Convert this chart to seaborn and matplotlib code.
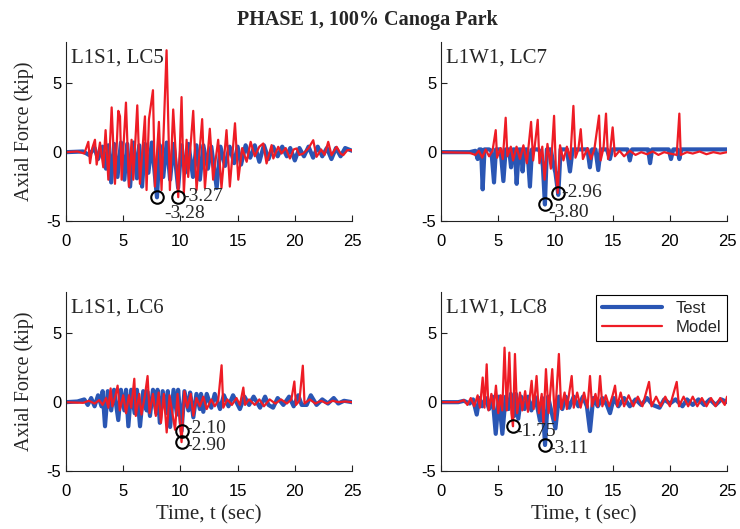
import matplotlib
matplotlib.use("Agg")
import matplotlib.pyplot as plt
import seaborn as sns
import pandas as pd
from matplotlib.lines import Line2D

# ---------------- data ----------------
# Panel 1: L1S1, LC5
lc5_test_t = [0, 1.5, 2.0, 2.5, 2.8, 3.2, 3.5, 3.7, 3.95, 4.2, 4.5, 4.8, 5.1, 5.35, 5.6, 5.9, 6.2, 6.4,
              6.65, 6.9, 7.2, 7.5, 7.95, 8.2, 8.5, 8.8, 9.1, 9.4, 9.8, 10.1, 10.4, 10.7, 11.1, 11.4, 11.7,
              12.0, 12.4, 12.7, 13.17, 13.5, 13.9, 14.3, 14.7, 15.0, 15.3, 15.7, 16.1, 16.5, 16.9, 17.3,
              17.7, 18.1, 18.5, 18.9, 19.3, 19.6, 20.0, 20.4, 20.8, 21.2, 21.6, 22.0, 22.4, 22.8, 23.2,
              23.6, 24.0, 24.4, 25]
lc5_test_v = [0, 0.05, -0.2, 0.3, -0.5, 0.4, -1.2, 0.5, -2.2, 0.6, -1.8, 0.7, -2.0, 0.6, -2.5, 0.7, -1.9, 0.5,
              -2.5, 0.6, -1.5, 0.7, -3.28, 0.5, -1.8, 0.7, -2.0, 0.6, -2.6, 0.5, -1.5, 0.6, -1.8, 0.5, -2.0,
              0.5, -1.2, 0.4, -2.6, 0.4, -1.0, 0.4, -0.8, 0.4, -0.9, 0.5, -0.4, 0.5, -0.7, 0.5,
              -0.5, 0.4, -0.3, 0.4, -0.3, 0.3, -0.6, 0.3, -0.3, 0.4, -0.4, 0.4, -0.3, 0.3, -0.5,
              0.3, -0.3, 0.3, 0.1]
lc5_model_t = [0, 1.0, 1.6, 1.95, 2.1, 2.3, 2.53, 2.68, 2.97, 3.26, 3.46, 3.7, 3.99, 4.28, 4.57, 4.72, 4.86,
               5.24, 5.5, 5.73, 5.88, 6.23, 6.46, 6.9, 7.04, 7.25, 7.6, 7.77, 8.12, 8.35, 8.79, 9.08, 9.37,
               9.81, 10.1, 10.3, 10.54, 10.68, 11.12, 11.41, 11.9, 12.14, 12.57, 12.86, 13.3, 13.59, 14.03,
               14.32, 14.77, 15.06, 15.4, 15.79, 16.14, 16.5, 16.9, 17.24, 17.53, 17.97, 18.12, 18.55, 18.84,
               19.2, 19.57, 19.9, 20.15, 20.4, 20.74, 21.2, 21.61, 21.9, 22.3, 22.6, 22.92, 23.21, 23.65,
               24.0, 24.23, 24.6, 24.96, 25]
lc5_model_v = [0, 0.05, -0.1, 0.75, -0.8, 0.3, 0.9, -0.9, 0.7, -1.1, 1.6, -2.0, 3.25, -2.3, 3.0, 2.6, -2.0,
               3.6, -2.5, 0.9, -2.0, 3.4, -2.3, 2.6, -2.75, 2.4, 4.5, -2.5, 2.2, -2.75, 7.4, -2.75, 3.1,
               -3.27, 4.0, -3.0, 0.9, -1.8, 3.0, -2.75, 2.4, -2.6, 1.7, -2.0, 0.9, -2.6, 1.6,
               -2.5, 2.1, -2.0, 0.3, -0.7, 0.75, -0.3, 0.4, 0.63, -0.82, 0.51, -0.46, 0.39, -0.1,
               0.3, -0.46, 0.2, 0.27, -0.2, -0.1, 0.3, 0.87, -0.34, 0.2, -0.2, 0.75, -0.22, 0.39,
               -0.1, -0.22, 0.15, 0.15, 0.1]

# Panel 2: L1W1, LC7
lc7_test_t = [0, 2.5, 3.0, 3.2, 3.35, 3.5, 3.64, 3.8, 4.2, 4.4, 4.63, 4.8, 5.2, 5.45, 5.65, 5.95, 6.12, 6.3,
              6.45, 6.61, 6.8, 7.0, 7.13, 7.3, 7.55, 7.77, 7.95, 8.5, 8.7, 8.9, 9.08, 9.25, 9.6, 9.8, 10.0,
              10.25, 10.45, 11.0, 11.27, 11.5, 12.8, 13.01, 13.2, 13.5, 13.74, 13.95, 14.5, 14.76, 14.95,
              16.3, 16.5, 16.7, 18.1, 18.27, 18.45, 19.9, 20.1, 20.3, 20.65, 20.83, 21.0, 25]
lc7_test_v = [0, 0.0, 0.1, -0.5, 0.2, 0.2, -2.7, 0.2, 0.2, 0.1, -2.2, 0.2, 0.2, -2.1, 0.2, 0.2, -1.1, 0.2,
              0.2, -2.3, 0.2, 0.2, -1.4, 0.2, 0.2, -2.5, 0.2, 0.2, 0.0, -1.0, -3.8, 0.2, 0.2, -0.8, -1.5,
              -3.1, 0.2, 0.2, -1.4, 0.2, 0.2, -1.1, 0.2, 0.2, -1.3, 0.2, 0.2, -0.5, 0.2,
              0.2, -0.6, 0.2, 0.2, -0.8, 0.2, 0.2, -0.5, 0.2, 0.2, -0.5, 0.2, 0.2]
lc7_model_t = [0, 2.5, 3.0, 3.3, 3.6, 3.9, 4.2, 4.5, 4.78, 4.9, 5.2, 5.4, 5.65, 5.8, 6.1, 6.3, 6.6, 6.9, 7.2,
               7.5, 7.87, 8.05, 8.2, 8.45, 8.6, 8.85, 9.05, 9.3, 9.6, 9.88, 10.05, 10.2, 10.4, 10.7, 11.0,
               11.3, 11.57, 11.75, 12.0, 12.21, 12.4, 12.8, 13.1, 13.4, 13.81, 13.95, 14.2, 14.42, 14.6,
               14.8, 15.0, 15.2, 15.6, 16.0, 16.5, 17.0, 17.5, 18.0, 18.5, 19.0, 19.5, 20.0, 20.6, 20.83,
               20.95, 21.5, 22.0, 22.6, 23.2, 23.8, 24.4, 25]
lc7_model_v = [0, -0.05, -0.2, 0.1, -0.4, 0.2, -0.3, 0.1, 1.6, -0.4, 0.3, -0.5, 2.5, -0.3, 0.4, -0.6, 0.4, -0.5, 0.5,
               -0.8, 2.2, -0.6, 0.5, 2.35, -0.8, 0.4, -2.0, 0.6, -1.2, 2.64, -1.5, -2.96, 0.5, -0.6, 0.4,
               -0.5, 3.36, -0.4, 0.2, 1.67, -0.5, 0.3, -0.5, 0.2, 2.66, -0.6, 0.3, 2.8, -0.5,
               0.2, 1.8, -0.3, 0.1, -0.3, 0.1, -0.2, 0.0, -0.15, 0.05, -0.2, 0.0, -0.1, -0.2, 2.8,
               -0.2, 0.0, -0.1, 0.05, -0.15, 0.0, -0.1, 0.0]

# Panel 3: L1S1, LC6
lc6_test_t = [0, 1.0, 1.6, 1.9, 2.2, 2.5, 2.8, 3.1, 3.2, 3.41, 3.65, 3.95, 4.2, 4.57, 4.8, 5.1, 5.25, 5.45,
              5.7, 6.0, 6.2, 6.47, 6.75, 7.05, 7.1, 7.34, 7.6, 7.9, 8.0, 8.2, 8.45, 8.8, 8.9, 9.1, 9.4, 9.7,
              9.8, 10.1, 10.35, 10.7, 10.85, 11.13, 11.4, 11.7, 11.8, 12.0, 12.3, 12.7, 13.0, 13.46, 13.8,
              14.2, 14.6, 15.2, 15.6, 16.0, 16.4, 16.96, 17.4, 17.7, 18.1, 18.5, 19.0, 19.5, 19.9, 20.3,
              20.6, 21.04, 21.4, 21.9, 22.4, 22.9, 23.4, 23.8, 24.3, 25]
lc6_test_v = [0, 0.05, 0.2, -0.2, 0.3, -0.3, 0.5, -0.3, 0.8, -1.75, 0.8, -0.6, 0.9, -1.3, 0.9, -0.6, 0.9, -1.75,
              0.9, -0.8, 0.9, -1.75, 0.8, -0.6, 0.8, -1.0, 0.9, -0.8, 0.9, -1.5, 0.8, -0.8, 0.8, -1.8, 0.9, -0.9,
              0.9, -2.1, 0.8, -0.6, 0.7, -1.1, 0.6, -0.5, 0.6, -0.7, 0.6, -0.4, 0.6, -0.5, 0.5,
              -0.3, 0.5, -0.5, 0.4, -0.2, 0.4, -0.4, 0.4, -0.2, -0.4, 0.3, -0.2, 0.4, -0.3, 0.5,
              -0.2, -0.2, 0.5, -0.2, 0.2, -0.1, 0.3, -0.1, 0.1, 0.0]
lc6_model_t = [0, 1.5, 2.0, 2.5, 2.9, 3.2, 3.5, 3.7, 3.9, 4.05, 4.3, 4.51, 4.7, 5.0, 5.25, 5.5, 5.7, 5.97,
               6.1, 6.4, 6.6, 6.9, 7.13, 7.3, 7.6, 7.85, 8.1, 8.3, 8.55, 8.8, 9.05, 9.3, 9.53, 9.75, 10.1,
               10.35, 10.6, 10.9, 11.13, 11.4, 11.7, 12.0, 12.3, 12.7, 13.0, 13.3, 13.6, 13.75, 14.1, 14.5,
               14.9, 15.2, 15.5, 15.65, 16.0, 16.5, 16.9, 17.3, 17.8, 18.3, 18.8, 19.3, 19.7, 19.96, 20.1,
               20.4, 20.7, 20.85, 21.3, 21.8, 22.3, 22.8, 23.3, 23.8, 24.4, 25]
lc6_model_v = [0, -0.05, 0.1, -0.1, 0.15, -0.2, 0.3, -0.4, 1.0, -0.3, 0.4, 1.2, -0.6, 0.5, -0.8, 0.5, -0.4, 1.7,
               -1.0, 0.6, -0.9, 0.5, 1.9, -0.8, 0.6, -1.0, 0.7, -1.5, 0.6, -2.2, 0.5, -0.8, -2.0, 0.6, -2.9,
               0.8, -0.4, 0.6, -0.98, 0.3, -0.3, 0.4, -0.5, 0.2, -0.3, 0.1, 2.68, -0.4, 0.2, -0.2,
               0.3, -0.2, 1.06, -0.2, 0.2, -0.2, 0.2, -0.3, 0.2, -0.1, 0.2, -0.1, 0.2, 1.5, -0.2,
               0.1, 2.65, -0.1, 0.2, -0.1, 0.1, -0.1, 0.1, 0.0, 0.05, 0.0]

# Panel 4: L1W1, LC8
lc8_test_t = [0, 1.5, 2.0, 2.5, 2.8, 3.12, 3.35, 3.6, 3.9, 4.2, 4.5, 4.78, 5.05, 5.36, 5.65, 5.9, 6.1, 6.4,
              6.55, 6.75, 7.0, 7.3, 7.6, 7.9, 8.2, 8.45, 8.65, 8.85, 9.09, 9.35, 9.6, 10.0, 10.3, 10.6, 10.9,
              11.2, 11.6, 12.0, 12.4, 12.75, 13.02, 13.3, 13.7, 14.1, 14.5, 14.77, 15.1, 15.5, 16.0, 16.5,
              17.0, 17.5, 18.0, 18.5, 19.1, 19.5, 20.0, 20.5, 21.1, 21.5, 22.0, 22.5, 23.0, 23.5, 24.0,
              24.5, 25]
lc8_test_v = [0, 0.0, 0.1, -0.1, 0.2, -0.9, 0.3, -0.3, 0.3, -0.5, 0.4, -2.3, 0.4, -2.3, 0.4, -0.5, 0.6, -1.0,
              0.6, -1.2, 0.4, -0.5, 0.4, -0.6, 0.4, -0.5, -1.35, 0.3, -3.11, 0.4, -0.5, -1.9, 0.4, -0.5, 0.4,
              -0.4, 0.4, -0.3, 0.4, -0.3, -2.1, 0.3, -0.3, 0.3, -0.2, -0.8, 0.3, -0.3, 0.3, -0.3,
              0.2, -0.2, 0.3, -0.2, -0.4, 0.2, -0.1, 0.2, -0.3, 0.2, -0.2, 0.2, -0.2, 0.2, -0.2,
              0.2, 0.0]
lc8_model_t = [0, 1.5, 2.0, 2.3, 2.6, 2.9, 3.2, 3.4, 3.64, 3.8, 3.99, 4.15, 4.4, 4.6, 4.8, 5.0, 5.2, 5.35,
               5.55, 5.75, 5.97, 6.15, 6.29, 6.46, 6.65, 6.9, 7.1, 7.35, 7.6, 7.92, 8.1, 8.35, 8.55, 8.8,
               8.95, 9.17, 9.4, 9.72, 9.95, 10.3, 10.5, 10.8, 11.0, 11.42, 11.6, 11.9, 12.2, 12.5, 12.8,
               13.02, 13.2, 13.5, 13.7, 13.9, 14.1, 14.4, 14.7, 15.0, 15.21, 15.4, 15.7, 16.0, 16.4, 16.8,
               17.2, 17.6, 18.18, 18.4, 18.8, 19.2, 19.6, 20.0, 20.6, 20.8, 21.2, 21.6, 22.0, 22.4, 22.8,
               23.2, 23.6, 24.0, 24.4, 24.8, 25]
lc8_model_v = [0, 0.0, 0.15, -0.2, 0.3, -0.3, 0.5, -0.4, 1.79, -0.4, 2.75, -0.6, 0.6, -0.5, 1.2, -0.8, 0.5, -0.6,
               3.96, -0.6, 3.6, -0.8, -1.75, 3.5, -0.8, 0.7, -0.6, 0.8, -0.7, 1.55, -0.5, 1.9, -0.8, 0.6,
               -1.5, 2.4, -0.8, 2.4, -1.3, 3.5, -0.5, 0.7, -0.5, 1.9, -0.4, 0.7, -0.4, 0.7, -0.4,
               1.9, -0.3, 0.6, -0.3, 1.9, -0.3, 0.5, -0.3, 0.5, 1.2, -0.3, 0.7, -0.3, 0.5, -0.3,
               0.4, -0.3, 1.47, -0.3, 0.4, -0.3, 0.4, -0.3, 1.47, -0.3, 0.4, -0.3, 0.4, -0.3, 0.3,
               -0.3, 0.3, -0.3, 0.3, -0.2, 0.4]

panel_titles = ["L1S1, LC5", "L1W1, LC7", "L1S1, LC6", "L1W1, LC8"]
# marked extremes: (t, value, label)
marks = [
    [(7.95, -3.28, "-3.28"), (9.81, -3.27, "-3.27")],
    [(9.08, -3.80, "-3.80"), (10.2, -2.96, "-2.96")],
    [(10.1, -2.10, "-2.10"), (10.1, -2.90, "-2.90")],
    [(6.29, -1.75, "-1.75"), (9.09, -3.11, "-3.11")],
]
# label text anchor positions (t, value) for each mark
label_pos = [
    [(8.6, -4.45), (10.15, -3.25)],
    [(9.35, -4.4), (10.55, -2.95)],
    [(10.45, -1.92), (10.45, -3.18)],
    [(6.5, -2.15), (9.35, -3.35)],
]
x_ticks = [0, 5, 10, 15, 20, 25]
y_ticks = [-5, 0, 5]

series = [
    (lc5_test_t, lc5_test_v, lc5_model_t, lc5_model_v),
    (lc7_test_t, lc7_test_v, lc7_model_t, lc7_model_v),
    (lc6_test_t, lc6_test_v, lc6_model_t, lc6_model_v),
    (lc8_test_t, lc8_test_v, lc8_model_t, lc8_model_v),
]

# ---------------- style ----------------
sns.set_style("ticks")
plt.rcParams["font.family"] = ["Liberation Sans", "DejaVu Sans"]
plt.rcParams["axes.unicode_minus"] = False
plt.rcParams["xtick.direction"] = "in"
plt.rcParams["ytick.direction"] = "in"

BLUE = "#2a56b4"
RED = "#ee1c25"
SERIF = ["Liberation Serif", "DejaVu Serif"]

fig = plt.figure(figsize=(7.4, 5.29), dpi=100)
lefts = [0.0892, 0.596]
bottoms = [0.5822, 0.1096]
W, H = 0.3865, 0.3384

for i, (tt, tv, mt, mv) in enumerate(series):
    r, c = divmod(i, 2)
    ax = fig.add_axes([lefts[c], bottoms[r], W, H])
    df_t = pd.DataFrame({"t": tt, "v": tv})
    df_m = pd.DataFrame({"t": mt, "v": mv})
    sns.lineplot(data=df_t, x="t", y="v", ax=ax, color=BLUE, linewidth=3.0,
                 estimator=None, sort=False, label="Test")
    sns.lineplot(data=df_m, x="t", y="v", ax=ax, color=RED, linewidth=1.6,
                 estimator=None, sort=False, label="Model")
    for (mx, my, lab), (lx, ly) in zip(marks[i], label_pos[i]):
        ax.plot([mx], [my], marker="o", markersize=9, markerfacecolor="none",
                markeredgecolor="black", markeredgewidth=1.5, zorder=5)
        ax.text(lx, ly, lab, family=SERIF, fontsize=14, va="center", ha="left", zorder=6)
    ax.text(0.45, 6.85, panel_titles[i], family=SERIF, fontsize=15, va="center", ha="left")
    ax.set_xlim(0, 25)
    ax.set_ylim(-5, 8)
    ax.set_xticks(x_ticks)
    ax.set_yticks(y_ticks)
    ax.tick_params(labelsize=12, length=4, width=0.8, colors="#222222", labelcolor="black")
    ax.tick_params(axis="x", pad=9)
    for s in ["top", "right"]:
        ax.spines[s].set_visible(False)
    for s in ["left", "bottom"]:
        ax.spines[s].set_linewidth(0.8)
        ax.spines[s].set_color("#222222")
    ax.set_xlabel("Time, t (sec)" if r == 1 else "", family=SERIF, fontsize=15, labelpad=5)
    ax.set_ylabel("Axial Force (kip)" if c == 0 else "", family=SERIF, fontsize=14.5, labelpad=9)
    if i == 3:
        handles = [Line2D([0], [0], color=BLUE, linewidth=3.0),
                   Line2D([0], [0], color=RED, linewidth=1.6)]
        leg = ax.legend(handles, ["Test", "Model"], loc="upper right",
                        bbox_to_anchor=(1.0, 0.985), borderaxespad=0, fontsize=12,
                        handlelength=3.6, frameon=True, fancybox=False, framealpha=1,
                        edgecolor="black", borderpad=0.35, labelspacing=0.25)
        leg.get_frame().set_linewidth(0.8)
    else:
        lg = ax.get_legend()
        if lg is not None:
            lg.remove()

fig.suptitle("PHASE 1, 100% Canoga Park", family=SERIF, fontweight="bold",
             fontsize=14.5, x=0.497, y=0.982)

fig.savefig("out.png", dpi=100)
